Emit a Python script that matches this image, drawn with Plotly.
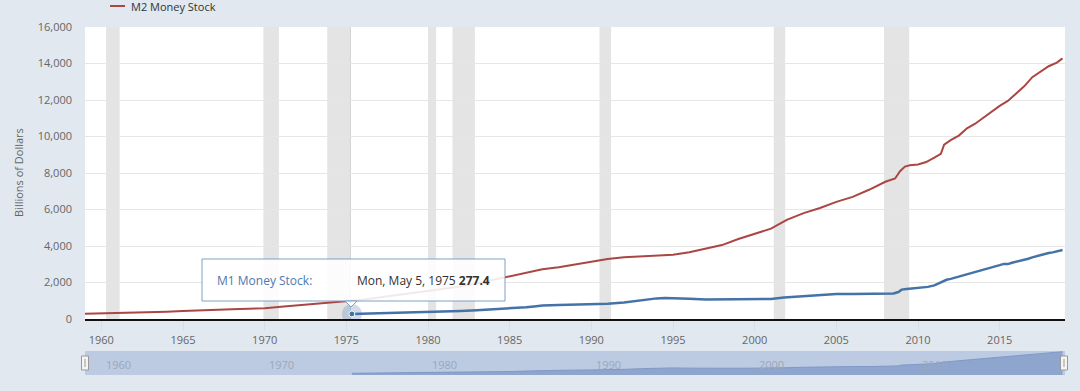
import plotly.graph_objects as go

# ---------------- data (billions of dollars) ----------------
m2_year = [1959.0, 1960.0, 1961.0, 1962.0, 1963.0, 1964.0, 1965.0, 1966.0, 1967.0, 1968.0,
           1969.0, 1970.0, 1971.0, 1972.0, 1973.0, 1974.0, 1975.0, 1976.0, 1977.0, 1978.0,
           1979.0, 1980.0, 1981.0, 1982.0, 1983.0, 1984.0, 1985.0, 1986.0, 1987.0, 1988.0,
           1989.0, 1990.0, 1991.0, 1992.0, 1993.0, 1994.0, 1995.0, 1996.0, 1997.0, 1998.0,
           1999.0, 2000.0, 2001.0, 2001.8, 2002.0, 2003.0, 2004.0, 2005.0, 2006.0, 2007.0,
           2008.0, 2008.6, 2008.9, 2009.2, 2009.5, 2010.0, 2010.5, 2011.0, 2011.4, 2011.6,
           2012.0, 2012.5, 2013.0, 2013.5, 2014.0, 2014.5, 2015.0, 2015.5, 2016.0, 2016.5,
           2017.0, 2017.5, 2018.0, 2018.5, 2018.85]
m2_value = [287, 302, 318, 343, 370, 400, 432, 455, 490, 532,
            568, 590, 668, 748, 828, 878, 948, 1050, 1180, 1300,
            1400, 1520, 1640, 1780, 1960, 2150, 2330, 2500, 2720, 2840,
            2980, 3160, 3290, 3380, 3420, 3490, 3520, 3660, 3840, 4050,
            4380, 4650, 4950, 5350, 5450, 5800, 6080, 6420, 6690, 7080,
            7520, 7700, 8100, 8350, 8420, 8470, 8600, 8840, 9050, 9550,
            9800, 10050, 10450, 10700, 11030, 11350, 11680, 11950, 12370, 12750,
            13250, 13550, 13850, 14050, 14280]

m1_year = [1975.34, 1976.0, 1977.0, 1978.0, 1979.0, 1980.0, 1981.0, 1982.0, 1983.0, 1984.0,
           1985.0, 1986.0, 1986.5, 1987.0, 1988.0, 1989.0, 1990.0, 1991.0, 1992.0, 1993.0,
           1994.0, 1994.5, 1995.0, 1996.0, 1997.0, 1998.0, 1999.0, 2000.0, 2001.0, 2001.8,
           2002.0, 2003.0, 2004.0, 2005.0, 2006.0, 2007.0, 2008.0, 2008.5, 2008.8, 2009.0,
           2009.3, 2009.6, 2010.0, 2010.3, 2010.6, 2011.0, 2011.25, 2011.5, 2011.75, 2012.0,
           2012.25, 2012.5, 2012.75, 2013.0, 2013.25, 2013.5, 2013.75, 2014.0, 2014.25, 2014.5,
           2014.75, 2015.0, 2015.25, 2015.5, 2015.75, 2016.0, 2016.25, 2016.5, 2016.75, 2017.0,
           2017.25, 2017.5, 2017.75, 2018.0, 2018.25, 2018.5, 2018.7, 2018.85]
m1_value = [277, 290, 312, 338, 365, 388, 412, 445, 485, 528,
            565, 640, 690, 735, 765, 790, 800, 835, 910, 1030,
            1130, 1150, 1150, 1110, 1075, 1075, 1095, 1110, 1100, 1180,
            1190, 1260, 1330, 1370, 1375, 1370, 1380, 1400, 1480, 1610,
            1640, 1670, 1690, 1720, 1760, 1840, 1950, 2080, 2150, 2200,
            2260, 2330, 2400, 2480, 2520, 2600, 2620, 2700, 2780, 2800,
            2880, 2950, 3020, 3010, 3080, 3130, 3170, 3250, 3300, 3380,
            3450, 3520, 3560, 3620, 3650, 3700, 3760, 3780]

recession_start = [1960.29, 1969.92, 1973.83, 1980.0, 1981.5, 1990.5, 2001.17, 2007.92]
recession_end = [1961.12, 1970.87, 1975.21, 1980.5, 1982.87, 1991.21, 2001.87, 2009.46]

y_ticks = [0, 2000, 4000, 6000, 8000, 10000, 12000, 14000, 16000]
nav_years = [1960, 1970, 1980, 1990, 2000, 2010]

hover_year = 1975.34
hover_value = 277.4
hover_date = "Mon, May 5, 1975"
legend_label = "M2 Money Stock"

# ---------------- colours ----------------
RED = "#aa4643"
BLUE = "#4572a7"
PAGE = "#e1e8ef"
FONT = "Open Sans, Noto Sans, sans-serif"

# ---------------- figure ----------------
W, H = 1080, 391
ML, MR, MT, MB = 85, 15, 27, 16
plot_h = H - MT - MB          # paper height in px
main_bottom = (H - MB - 319) / plot_h
nav_top = (H - MB - 351) / plot_h


def py(pix):
    """pixel y -> paper y"""
    return (H - MB - pix) / plot_h


def px(pix):
    """pixel x -> paper x"""
    return (pix - ML) / (W - ML - MR)


fig = go.Figure()

fig.add_trace(go.Scatter(
    x=m2_year, y=m2_value, mode="lines", name="M2 Money Stock",
    line=dict(color=RED, width=2), xaxis="x", yaxis="y"))
fig.add_trace(go.Scatter(
    x=m1_year, y=m1_value, mode="lines", name="M1 Money Stock",
    line=dict(color=BLUE, width=2.5), xaxis="x", yaxis="y"))

# hovered point (halo + dot)
fig.add_trace(go.Scatter(
    x=[hover_year], y=[hover_value], mode="markers",
    marker=dict(size=20, color="rgba(69,114,167,0.25)"), xaxis="x", yaxis="y"))
fig.add_trace(go.Scatter(
    x=[hover_year], y=[hover_value], mode="markers",
    marker=dict(size=6, color=BLUE, line=dict(color="white", width=1)), xaxis="x", yaxis="y"))

# navigator area
fig.add_trace(go.Scatter(
    x=m1_year, y=m1_value, mode="lines", fill="tozeroy",
    line=dict(color="#7f99c6", width=1), fillcolor="#8ea6cd",
    xaxis="x2", yaxis="y2"))

shapes = []
for s, e in zip(recession_start, recession_end):
    shapes.append(dict(type="rect", xref="x", yref="y domain", x0=s, x1=e, y0=0, y1=1,
                       fillcolor="#e4e4e4", line=dict(width=0), layer="below"))
# crosshair
shapes.append(dict(type="line", xref="x", yref="y domain", x0=hover_year - 0.1, x1=hover_year - 0.1,
                   y0=0, y1=1, line=dict(color="#c8c8c8", width=1), layer="below"))
# navigator background
shapes.append(dict(type="rect", xref="x2 domain", yref="y2 domain", x0=0, x1=1, y0=0, y1=1,
                   fillcolor="#bccae2", line=dict(width=0), layer="below"))
# navigator handles
for hx in (85, 1064):
    shapes.append(dict(type="rect", xref="paper", yref="paper",
                       x0=px(hx - 3.5), x1=px(hx + 3.5), y0=py(370), y1=py(356),
                       fillcolor="#f4f4f4", line=dict(color="#999999", width=1)))
    shapes.append(dict(type="line", xref="paper", yref="paper",
                       x0=px(hx), x1=px(hx), y0=py(367), y1=py(359),
                       line=dict(color="#999999", width=1)))
# tooltip box
shapes.append(dict(type="rect", xref="paper", yref="paper",
                   x0=px(202), x1=px(505), y0=py(301), y1=py(259),
                   fillcolor="rgba(255,255,255,0.88)", line=dict(color="#7ea1c9", width=1)))
shapes.append(dict(type="path", xref="paper", yref="paper",
                   path=f"M {px(345)},{py(301)} L {px(351)},{py(307)} L {px(357)},{py(301)} Z",
                   fillcolor="rgba(255,255,255,0.95)", line=dict(color="#7ea1c9", width=1)))
# legend swatch (drawn manually so it does not push the margins)
shapes.append(dict(type="line", xref="paper", yref="paper",
                   x0=px(110), x1=px(125), y0=py(6), y1=py(6),
                   line=dict(color=RED, width=2)))

annotations = [
    dict(text=legend_label, xref="paper", yref="paper", x=px(129), y=py(6),
         xanchor="left", yanchor="middle", showarrow=False,
         font=dict(size=11, color="#333333", family=FONT)),
    dict(text="Billions of Dollars", xref="paper", yref="paper", x=px(18), y=py(173),
         xanchor="center", yanchor="middle",
         textangle=-90, showarrow=False, font=dict(size=11, color="#666666", family=FONT)),
    dict(text="M1 Money Stock:", xref="paper", yref="paper", x=px(215), y=py(280),
         xanchor="left", yanchor="middle", showarrow=False,
         font=dict(size=12, color="#4f79ad", family=FONT)),
    dict(text=f"{hover_date} <b>{hover_value}</b>", xref="paper", yref="paper", x=px(492), y=py(280),
         xanchor="right", yanchor="middle", showarrow=False,
         font=dict(size=12, color="#333333", family=FONT)),
]
for yr in nav_years:
    annotations.append(dict(text=str(yr), xref="x2", yref="y2 domain", x=yr + 0.15, y=0.45,
                            xanchor="left", yanchor="middle", showarrow=False,
                            font=dict(size=11, color="#9aa8bb", family=FONT)))

fig.update_layout(
    width=W, height=H,
    margin=dict(l=ML, r=MR, t=MT, b=MB, autoexpand=False),
    paper_bgcolor=PAGE, plot_bgcolor="white",
    font=dict(family=FONT, size=11, color="#666666"),
    showlegend=False,
    xaxis=dict(domain=[0, 1], range=[1959.0, 2019.0], anchor="y", automargin=False,
               tickmode="linear", tick0=1960, dtick=5, tickformat="d",
               showgrid=False, zeroline=False,
               showline=True, linecolor="#111111", linewidth=2,
               ticks="outside", ticklen=10, tickcolor="#d6dde6", tickwidth=1,
               tickfont=dict(size=11, color="#666666")),
    yaxis=dict(domain=[main_bottom, 1], range=[0, 16000], anchor="x", automargin=False,
               tickvals=y_ticks, tickformat=",d",
               showgrid=True, gridcolor="#e6e6e6", gridwidth=1, zeroline=False,
               ticklabelstandoff=12,
               tickfont=dict(size=11, color="#666666")),
    xaxis2=dict(domain=[0, 1], range=[1959.0, 2019.0], anchor="y2", automargin=False,
                showticklabels=False, showgrid=False, zeroline=False, showline=False),
    yaxis2=dict(domain=[0, nav_top], range=[0, 3900], anchor="x2", automargin=False,
                showticklabels=False, showgrid=False, zeroline=False, showline=False),
    shapes=shapes,
    annotations=annotations,
    hovermode=False,
)

fig.write_html(
    "out.html",
    config={"displayModeBar": False, "staticPlot": True},
    post_script="document.body.style.margin='0';document.body.style.padding='0';"
                "document.body.style.background='" + PAGE + "';",
)
